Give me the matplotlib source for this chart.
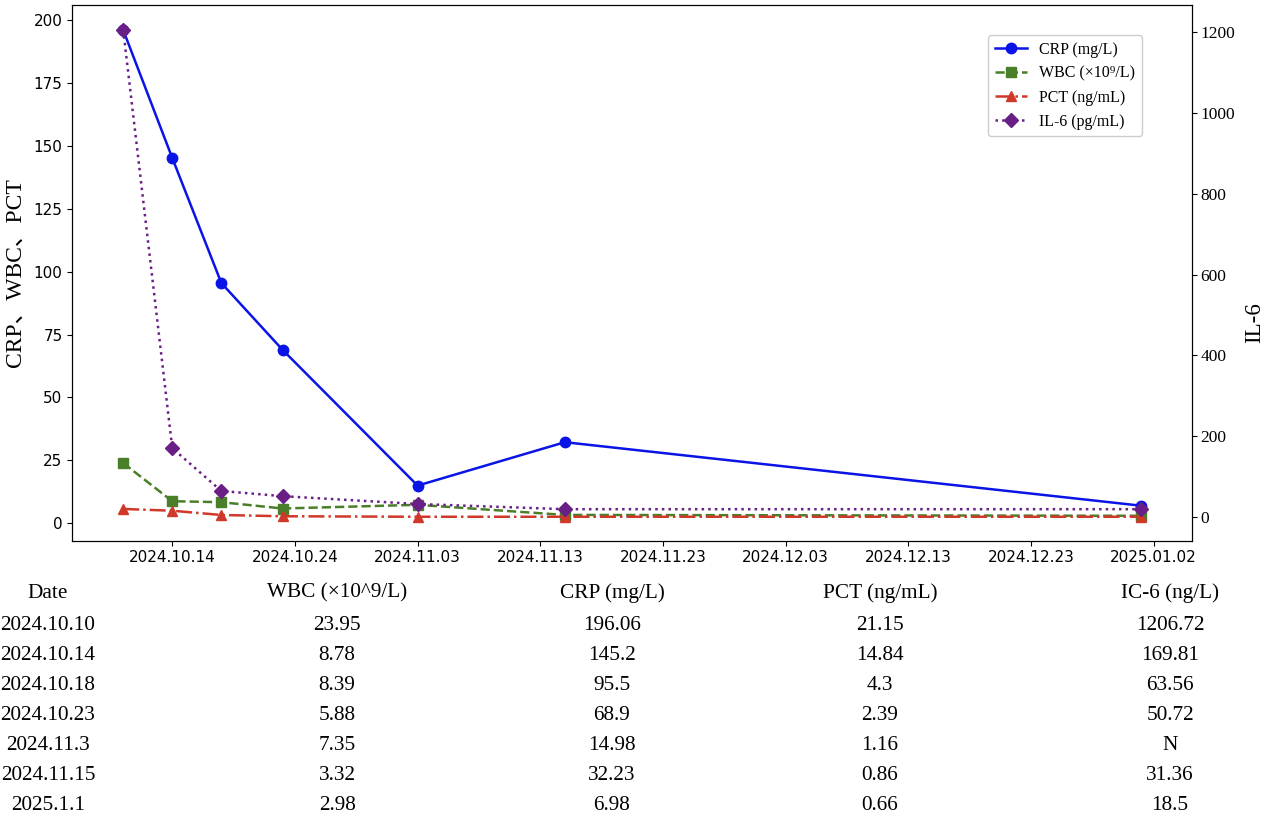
import matplotlib
matplotlib.use("Agg")
import matplotlib.pyplot as plt
import matplotlib.dates as mdates
import pandas as pd

# ---- data ----
date_labels = ["2024.10.10", "2024.10.14", "2024.10.18", "2024.10.23",
               "2024.11.3", "2024.11.15", "2025.1.1"]
dates = pd.to_datetime(["2024-10-10", "2024-10-14", "2024-10-18", "2024-10-23",
                        "2024-11-03", "2024-11-15", "2025-01-01"])
wbc = [23.95, 8.78, 8.39, 5.88, 7.35, 3.32, 2.98]
crp = [196.06, 145.2, 95.5, 68.9, 14.98, 32.23, 6.98]
pct_table = ["21.15", "14.84", "4.3", "2.39", "1.16", "0.86", "0.66"]
il6_table = ["1206.72", "169.81", "63.56", "50.72", "N", "31.36", "18.5"]
# values as drawn in the chart
pct_plot = [5.7, 5.0, 3.3, 2.8, 2.6, 2.6, 2.6]
il6_plot = [1206.72, 169.81, 63.56, 50.72, 31.36, 18.5, 18.5]

table_headers = ["Date", "WBC (×10^9/L)", "CRP (mg/L)", "PCT (ng/mL)", "IC-6 (ng/L)"]
wbc_table = ["23.95", "8.78", "8.39", "5.88", "7.35", "3.32", "2.98"]
crp_table = ["196.06", "145.2", "95.5", "68.9", "14.98", "32.23", "6.98"]

serif = ["Liberation Serif", "Noto Sans CJK SC", "DejaVu Sans"]

fig = plt.figure(figsize=(12.68, 8.14), dpi=100)
ax = fig.add_axes([0.0570, 0.3358, 0.8833, 0.6581])
ax2 = ax.twinx()

c_crp, c_wbc, c_pct, c_il6 = "#0a14e6", "#4a7f2a", "#d0382a", "#6a1f86"

l1, = ax.plot(dates, crp, color=c_crp, ls="-", marker="o", ms=7.5, lw=1.8, label="CRP (mg/L)")
l2, = ax.plot(dates, wbc, color=c_wbc, ls="--", marker="s", ms=7.5, lw=1.8, label="WBC (×10⁹/L)")
l3, = ax.plot(dates, pct_plot, color=c_pct, ls="-.", marker="^", ms=7.5, lw=1.8, label="PCT (ng/mL)")
l4, = ax2.plot(dates, il6_plot, color=c_il6, ls=":", marker="D", ms=7.5, lw=1.8, label="IL-6 (pg/mL)")

ax.set_ylim(-6.9, 206)
ax2.set_ylim(-59.5, 1268)
ax.set_yticks([0, 25, 50, 75, 100, 125, 150, 175, 200])
ax2.set_yticks([0, 200, 400, 600, 800, 1000, 1200])

ticks = pd.date_range("2024-10-14", "2025-01-02", freq="10D")
ax.set_xticks(ticks)
ax.xaxis.set_major_formatter(mdates.DateFormatter("%Y.%m.%d"))
ax.tick_params(axis="both", labelsize=11)
ax2.tick_params(axis="y", pad=2.5)
for t in ax2.get_yticklabels():
    t.set_fontfamily(serif)
    t.set_fontsize(12.5)

ax.set_ylabel("CRP、WBC、PCT", fontsize=17, family=serif, labelpad=6)

W, H = 1268, 814
fig.text(1255 / W, 1 - 323 / H, "IL-6", rotation=90, ha="center", va="center",
         fontsize=16.5, family=serif)

ax2.legend(handles=[l1, l2, l3, l4], loc="upper right", bbox_to_anchor=(0.962, 0.958),
           prop={"family": serif, "size": 11.5}, framealpha=1)

# ---- table below ----
col_x = [48, 337, 612, 880, 1170]
row_y = [593, 625, 656, 686, 716, 746, 776, 806]
for x, h in zip(col_x, table_headers):
    fig.text(x / W, 1 - row_y[0] / H, h, ha="center", va="center", fontsize=15.3, family=serif)
columns = [date_labels, wbc_table, crp_table, pct_table, il6_table]
for x, col in zip(col_x, columns):
    for y, v in zip(row_y[1:], col):
        fig.text(x / W, 1 - y / H, v, ha="center", va="center", fontsize=15.3, family=serif)

fig.savefig("out.png", dpi=100)
